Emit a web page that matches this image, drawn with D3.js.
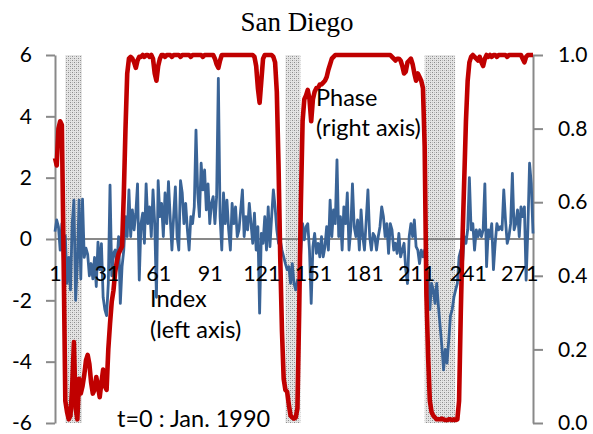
<!DOCTYPE html>
<html>
<head>
<meta charset="utf-8">
<script src="https://cdn.jsdelivr.net/npm/d3@7"></script>
<style>
  html, body { margin: 0; padding: 0; background: #ffffff; }
  svg { display: block; }
</style>
</head>
<body>
<svg id="chart" width="593" height="434"></svg>
<script>
// Monthly index (left axis), t = 1 is January 1990
const indexValues = [
  0.24, 0.62, 0.4, -0.36, 0.5, -0.9, 0.1, -1.45, -0.6, -1.66,
  0.5, 1.27, -2.0, -0.8, 1.27, -1.3, 1.3, -0.6, -0.3,
  -0.5, -1.2, -0.8, -1.3, -0.6, -1.55, -0.1, -1.0, -0.15, -1.9,
  -2.3, -2.5, -1.45, 1.76, -1.2, -0.47, -0.36, -0.8, 0.08, -2.1,
  -0.9, -0.36, 0.73, 0.08, 1.6, 0.08, 0.95, 0.3, 0.84, 1.8,
  -1.34, 0.5, 0.84, -0.14, 1.8, 0.5, 1.05, 0.08, 1.6,
  0.5, -1.9, 1.9, 0.73, 1.16, 0.08, 1.5, 0.5, 1.87, 0.7,
  -0.36, 0.73, 1.7, 0.08, -0.36, 1.9, 1.5, 0.5, 1.16, 0.3,
  -0.36, 0.73, 0.5, 1.05, 3.55, 1.5, 0.73, 2.47, 1.6, 2.25,
  0.95, 1.8, 0.5, 1.16, 1.38, 0.5, 1.38, 5.24, 0.73, -0.36,
  1.5, 0.5, 1.27, 0.3, -0.36, 1.16, 0.5, 1.05, 0.08, 0.3,
  0.95, 1.6, 0.08, 0.73, 0.3, 1.16, 0.5, -0.14, 0.84, -0.36,
  0.4, -2.42, 0.18, -0.14, 0.73, -0.36, 1.05, -0.25, 0.73, 1.6,
  1.05, 0.3, -0.14, -0.03, -0.36, -0.58, -0.8, -1.0, -0.9,
  -1.45, -0.8, -1.45, -1.66, -1.34, -1.45, -0.36, 0.5, -0.03, 0.4,
  0.5, -0.36, -2.1, -0.25, 0.18, -0.47, -0.14, -0.58, 0.08, -0.58,
  -0.25, 0.4, -0.36, 1.27, 0.08, 0.95, 0.5, 2.58, 0.08, 0.73,
  -0.36, 1.05, 0.5, 1.5, -0.36, 0.3, 1.8, 0.4, 0.08, 0.62,
  -0.36, 0.95, 0.08, -0.36, 0.62, 1.6, 0.08, -0.36, 0.18, 0.08,
  -0.36, 0.08, 0.4, 1.05, 0.73, 0.08, 0.5, -0.47, 0.5, 0.3,
  -0.36, -0.14, -0.47, 0.18, -0.58, -0.36, -0.14, -1.0, -1.45, 0.08,
  0.5, 0.08, 0.62, -0.25, -0.36, -0.8, -0.36, -0.58, -0.36, -0.9,
  -1.2, -2.3, -1.45, -1.66, -2.1, -1.45, -2.2, -2.86, -3.5, -4.27,
  -3.6, -4.05, -3.3, -2.5, -2.3, -1.9, -1.66, -1.45, -0.58, -0.36,
  -0.8, 0.08, -0.14, 0.3, 2.0, 0.3, 0.5, -0.36, 0.3, 0.08,
  0.3, 0.08, 0.3, 1.8, -0.9, 0.3, 0.08, 0.5, -1.0, -0.14,
  0.5, 0.3, 0.4, 0.3, 1.6, 0.62, -0.14, 0.08, 0.5, 2.14,
  0.3, 0.5, 0.95, 0.08, 1.05, 0.73, 1.05, -1.34, 0.3, 2.47,
  1.8, 0.18
];

// Phase probability (right axis)
const phaseValues = [
  0.72, 0.70, 0.80, 0.82, 0.81, 0.45, 0.06, 0.03, 0.01, 0.02,
  0.10, 0.22, 0.04, 0.01, 0.12, 0.08, 0.10, 0.13, 0.17, 0.185,
  0.16, 0.11, 0.08, 0.09, 0.125, 0.10, 0.07, 0.11, 0.145, 0.10,
  0.09, 0.20, 0.27, 0.33, 0.36, 0.41, 0.44, 0.46, 0.47, 0.48,
  0.62, 0.80, 0.95, 0.99, 0.995, 0.99, 0.98, 0.965, 0.985, 0.995,
  0.995, 1.0, 0.995, 1.0, 1.0, 0.995, 1.0, 0.99, 0.95, 0.93,
  0.97, 0.99, 1.0, 1.0, 0.995, 1.0, 1.0, 1.0, 0.995, 1.0,
  1.0, 1.0, 1.0, 0.995, 1.0, 1.0, 1.0, 1.0, 1.0, 0.995,
  1.0, 1.0, 1.0, 1.0, 1.0, 1.0, 0.995, 1.0, 1.0, 1.0,
  1.0, 1.0, 1.0, 0.99, 0.975, 0.965, 0.985, 1.0, 1.0, 1.0,
  1.0, 1.0, 1.0, 1.0, 1.0, 1.0, 1.0, 1.0, 1.0, 1.0,
  1.0, 1.0, 1.0, 1.0, 1.0, 1.0, 0.995, 0.97, 0.91, 0.87,
  0.93, 0.99, 1.0, 1.0, 1.0, 1.0, 1.0, 0.995, 0.98, 0.9,
  0.7, 0.45, 0.25, 0.12, 0.09, 0.085, 0.05, 0.02, 0.015, 0.012,
  0.015, 0.04, 0.3, 0.6, 0.82, 0.88, 0.89, 0.905, 0.88, 0.82,
  0.88, 0.90, 0.91, 0.91, 0.92, 0.92, 0.925, 0.93, 0.94, 0.96,
  0.975, 0.99, 0.995, 1.0, 1.0, 1.0, 1.0, 1.0, 1.0, 1.0,
  1.0, 1.0, 1.0, 1.0, 1.0, 1.0, 1.0, 1.0, 1.0, 1.0,
  1.0, 1.0, 1.0, 1.0, 1.0, 1.0, 1.0, 1.0, 1.0, 1.0,
  1.0, 1.0, 1.0, 1.0, 1.0, 1.0, 0.995, 0.99, 0.985, 0.99,
  0.99, 0.985, 0.97, 0.95, 0.955, 0.98, 0.985, 0.99, 0.975, 0.95,
  0.93, 0.95, 0.94, 0.93, 0.91, 0.75, 0.35, 0.18, 0.06, 0.03,
  0.02, 0.015, 0.01, 0.01, 0.01, 0.012, 0.01, 0.008, 0.008, 0.01,
  0.01, 0.008, 0.01, 0.008, 0.01, 0.06, 0.30, 0.50, 0.66, 0.82,
  0.93, 0.98, 0.995, 1.0, 0.995, 0.99, 0.985, 0.995, 0.98, 0.97,
  0.99, 1.0, 0.995, 1.0, 0.995, 1.0, 1.0, 0.995, 1.0, 1.0,
  1.0, 1.0, 1.0, 0.995, 1.0, 1.0, 1.0, 1.0, 1.0, 1.0,
  1.0, 1.0, 0.99, 0.98, 0.995, 1.0, 1.0, 1.0, 1.0
];

// Recession months (t index, first and last shaded month)
const recessionStart = [7, 135, 216];
const recessionEnd = [16, 143, 233];

const xTickLabels = [1, 31, 61, 91, 121, 151, 181, 211, 241, 271];
const leftTicks = [-6, -4, -2, 0, 2, 4, 6];
const rightTicks = [0, 0.2, 0.4, 0.6, 0.8, 1.0];

const title = "San Diego";
const phaseLabel = ["Phase", "(right axis)"];
const indexLabel = ["Index", "(left axis)"];
const noteLabel = "t=0 : Jan. 1990";

const plot = { left: 55, right: 533, top: 55, bottom: 423 };
const labelFont = "Lato, 'Open Sans', sans-serif";
const axisColor = "#898989";

const svg = d3.select("#chart");
const n = indexValues.length;
const months = d3.range(1, n + 1);

const x = d3.scaleLinear().domain([1, n]).range([plot.left, plot.right]);
const yL = d3.scaleLinear().domain([-6, 6]).range([plot.bottom, plot.top]);
const yR = d3.scaleLinear().domain([0, 1]).range([plot.bottom, plot.top]);

// dotted fill for recession bands
const defs = svg.append("defs");
const pat = defs.append("pattern")
  .attr("id", "dots").attr("patternUnits", "userSpaceOnUse")
  .attr("width", 4).attr("height", 4);
pat.append("rect").attr("width", 4).attr("height", 4).attr("fill", "#e4e4e4");
[[0, 0, "#8c8c8c"], [2, 2, "#8c8c8c"], [2, 0, "#bcbcbc"], [0, 2, "#bcbcbc"]].forEach(([px, py, c]) =>
  pat.append("rect").attr("x", px).attr("y", py).attr("width", 1).attr("height", 1).attr("fill", c));

svg.append("g").selectAll("rect")
  .data(recessionStart.map((s, k) => [s, recessionEnd[k]]))
  .join("rect")
  .attr("x", d => x(d[0]))
  .attr("width", d => x(d[1] + 0.7) - x(d[0]))
  .attr("y", yR(1))
  .attr("height", yR(0) - yR(1))
  .attr("fill", "url(#dots)");

// left axis
const gL = svg.append("g")
  .attr("transform", `translate(${plot.left},0)`)
  .call(d3.axisLeft(yL).tickValues(leftTicks).tickFormat(d => String(d))
    .tickSize(9).tickSizeOuter(0).tickPadding(14));

// right axis
const gR = svg.append("g")
  .attr("transform", `translate(${plot.right},0)`)
  .call(d3.axisRight(yR).tickValues(rightTicks).tickFormat(d3.format(".1f"))
    .tickSize(10).tickSizeOuter(0).tickPadding(15));

[gL, gR].forEach(g => {
  g.select(".domain").attr("stroke", axisColor).attr("stroke-width", 2);
  g.selectAll(".tick line").attr("stroke", axisColor).attr("stroke-width", 2);
  g.selectAll(".tick text").attr("font-family", labelFont).attr("font-size", 21)
    .attr("fill", "#000");
});

// zero line (category axis)
svg.append("line")
  .attr("x1", plot.left).attr("x2", plot.right)
  .attr("y1", yL(0)).attr("y2", yL(0))
  .attr("stroke", axisColor).attr("stroke-width", 2);

// index series
svg.append("path")
  .datum(months)
  .attr("fill", "none")
  .attr("stroke", "#3a6497")
  .attr("stroke-width", 2.8)
  .attr("stroke-linejoin", "round")
  .attr("d", d3.line().x(t => x(t)).y(t => yL(indexValues[t - 1])));

// phase series
svg.append("path")
  .datum(months)
  .attr("fill", "none")
  .attr("stroke", "#c00000")
  .attr("stroke-width", 4.6)
  .attr("stroke-linejoin", "round")
  .attr("d", d3.line().x(t => x(t)).y(t => yR(phaseValues[t - 1])));

// month labels along the zero line
const gX = svg.append("g")
  .attr("transform", `translate(0,${yL(0)})`)
  .call(d3.axisBottom(x).tickValues(xTickLabels).tickFormat(d => String(d))
    .tickSize(0).tickPadding(27));
gX.select(".domain").remove();
gX.selectAll(".tick text").attr("font-family", labelFont).attr("font-size", 21.5).attr("fill", "#000");

// title
svg.append("text")
  .attr("x", 297).attr("y", 31)
  .attr("text-anchor", "middle")
  .attr("font-family", "'Liberation Serif', 'Times New Roman', serif")
  .attr("font-size", 27)
  .text(title);

// annotations
const annot = svg.append("g").attr("font-family", labelFont).attr("font-size", 23.5).attr("fill", "#000");
annot.selectAll("text.phase").data(phaseLabel).join("text")
  .attr("class", "phase").attr("x", 316).attr("y", (d, k) => 106 + k * 30).text(d => d);
annot.selectAll("text.index").data(indexLabel).join("text")
  .attr("class", "index").attr("x", 150).attr("y", (d, k) => 307 + k * 31).text(d => d);
annot.append("text").attr("x", 117).attr("y", 427).text(noteLabel);
</script>
</body>
</html>
